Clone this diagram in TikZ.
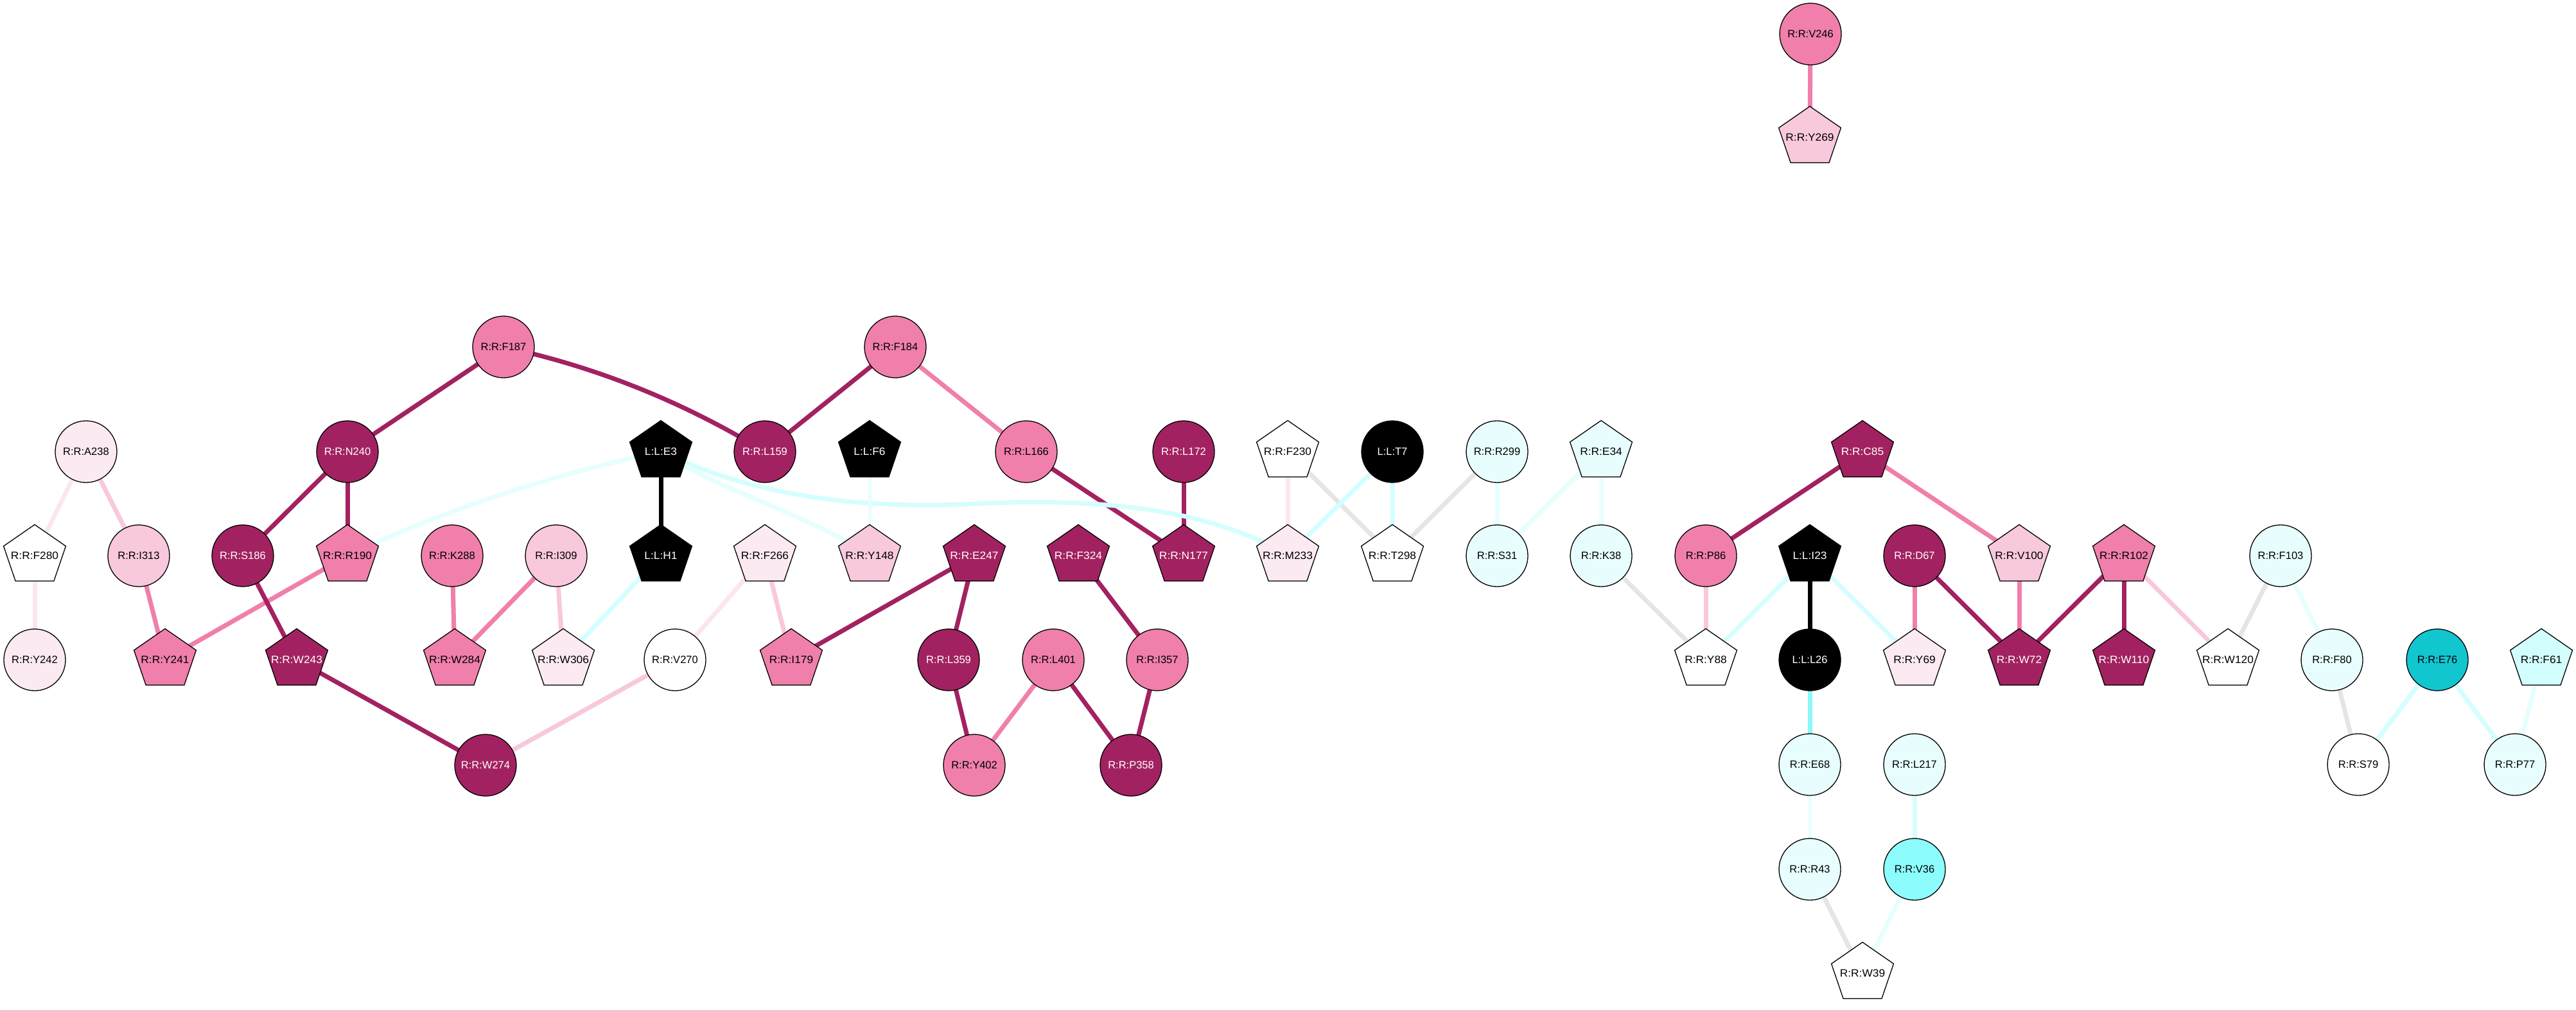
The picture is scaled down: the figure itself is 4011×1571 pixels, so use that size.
\documentclass[tikz,border=0pt]{standalone}
\usepackage{fontspec}
\setmainfont{Liberation Sans}
\usetikzlibrary{shapes.geometric,backgrounds}

\definecolor{cdark}{HTML}{A22261}
\definecolor{cmed}{HTML}{F07FAB}
\definecolor{clight}{HTML}{F8C8DD}
\definecolor{cvlight}{HTML}{FBEAF2}
\definecolor{ccyl}{HTML}{E8FEFE}
\definecolor{ccyan}{HTML}{D3FEFE}
\definecolor{ccyanm}{HTML}{8CFCFC}
\definecolor{cteal}{HTML}{12C6D0}
\definecolor{egrayc}{HTML}{E5E5E5}
\definecolor{evlc}{HTML}{FBE6EF}
\definecolor{ecyc}{HTML}{D5FEFE}
\definecolor{ecylc}{HTML}{E6FEFE}
\definecolor{ecymc}{HTML}{8CF8F8}

\newcommand{\zw}[1]{\makebox[0pt]{#1}}

\tikzset{
  nd/.style={draw=black, line width=1.3pt, inner sep=0pt, text=black,
             font=\fontsize{16.5}{18}\selectfont},
  circ/.style={nd, circle, minimum size=96pt},
  pent/.style={nd, regular polygon, regular polygon sides=5, minimum size=97pt, xscale=1.05},
  fdark/.style={fill=cdark, text=white},
  fblack/.style={fill=black, text=white},
  fmed/.style={fill=cmed},
  flight/.style={fill=clight},
  fvlight/.style={fill=cvlight},
  fwhite/.style={fill=white},
  fcyl/.style={fill=ccyl},
  fcyan/.style={fill=ccyan},
  fcyanm/.style={fill=ccyanm},
  fteal/.style={fill=cteal},
  ed/.style={line width=7pt},
  edark/.style={ed, draw=cdark},
  emed/.style={ed, draw=cmed},
  elight/.style={ed, draw=clight},
  evl/.style={ed, draw=evlc},
  egray/.style={ed, draw=egrayc},
  ecy/.style={ed, draw=ecyc},
  ecyl/.style={ed, draw=ecylc},
  ecythin/.style={line width=5pt, draw=ecylc},
  ecym/.style={ed, draw=ecymc},
  eblack/.style={ed, draw=black},
}

\begin{document}
\begin{tikzpicture}[x=1pt,y=-1pt]
\useasboundingbox (0,0) rectangle (4011,1571);

% ---- top pair
\node[circ,fmed]   (V246) at (2819,53)  {R:R:V246};
\node[pent,flight] (Y269) at (2818,214) {\zw{R:R:Y269}};

% ---- row 540
\node[circ,fmed] (F187) at (784,540)  {R:R:F187};
\node[circ,fmed] (F184) at (1394,540) {R:R:F184};

% ---- row 703
\node[circ,fvlight] (A238) at (134,703)  {R:R:A238};
\node[circ,fdark]   (N240) at (541,703)  {R:R:N240};
\node[pent,fblack]  (E3)   at (1029,703) {\zw{L:L:E3}};
\node[circ,fdark]   (L159) at (1191,703) {R:R:L159};
\node[pent,fblack]  (F6)   at (1354,703) {\zw{L:L:F6}};
\node[circ,fmed]    (L166) at (1598,703) {R:R:L166};
\node[circ,fdark]   (L172) at (1843,703) {R:R:L172};
\node[pent,fwhite]  (F230) at (2005,703) {\zw{R:R:F230}};
\node[circ,fblack]  (T7)   at (2168,703) {L:L:T7};
\node[circ,fcyl]    (R299) at (2331,703) {R:R:R299};
\node[pent,fcyl]    (E34)  at (2493,703) {\zw{R:R:E34}};
\node[pent,fdark]   (C85)  at (2900,703) {\zw{R:R:C85}};

% ---- row 865
\node[pent,fwhite]  (F280) at (54,865)   {\zw{R:R:F280}};
\node[circ,flight]  (I313) at (216,865)  {R:R:I313};
\node[circ,fdark]   (S186) at (378,865)  {R:R:S186};
\node[pent,fmed]    (R190) at (541,865)  {\zw{R:R:R190}};
\node[circ,fmed]    (K288) at (704,865)  {R:R:K288};
\node[circ,flight]  (I309) at (866,865)  {R:R:I309};
\node[pent,fblack]  (H1)   at (1029,865) {\zw{L:L:H1}};
\node[pent,fvlight] (F266) at (1191,865) {\zw{R:R:F266}};
\node[pent,flight]  (Y148) at (1354,865) {\zw{R:R:Y148}};
\node[pent,fdark]   (E247) at (1517,865) {\zw{R:R:E247}};
\node[pent,fdark]   (F324) at (1679,865) {\zw{R:R:F324}};
\node[pent,fdark]   (N177) at (1843,865) {\zw{R:R:N177}};
\node[pent,fvlight] (M233) at (2005,865) {\zw{R:R:M233}};
\node[pent,fwhite]  (T298) at (2168,865) {\zw{R:R:T298}};
\node[circ,fcyl]    (S31)  at (2331,865) {R:R:S31};
\node[circ,fcyl]    (K38)  at (2493,865) {R:R:K38};
\node[circ,fmed]    (P86)  at (2656,865) {R:R:P86};
\node[pent,fblack]  (I23)  at (2818,865) {\zw{L:L:I23}};
\node[circ,fdark]   (D67)  at (2981,865) {R:R:D67};
\node[pent,flight]  (V100) at (3144,865) {\zw{R:R:V100}};
\node[pent,fmed]    (R102) at (3307,865) {\zw{R:R:R102}};
\node[circ,fcyl]    (F103) at (3551,865) {R:R:F103};

% ---- row 1027
\node[circ,fvlight] (Y242) at (54,1027)   {R:R:Y242};
\node[pent,fmed]    (Y241) at (257,1027)  {\zw{R:R:Y241}};
\node[pent,fdark]   (W243) at (462,1027)  {\zw{R:R:W243}};
\node[pent,fmed]    (W284) at (708,1027)  {\zw{R:R:W284}};
\node[pent,fvlight] (W306) at (877,1027)  {\zw{R:R:W306}};
\node[circ,fwhite]  (V270) at (1051,1027) {R:R:V270};
\node[pent,fmed]    (I179) at (1232,1027) {\zw{R:R:I179}};
\node[circ,fdark]   (L359) at (1477,1027) {R:R:L359};
\node[circ,fmed]    (L401) at (1640,1027) {R:R:L401};
\node[circ,fmed]    (I357) at (1802,1027) {R:R:I357};
\node[pent,fwhite]  (Y88)  at (2656,1027) {\zw{R:R:Y88}};
\node[circ,fblack]  (L26)  at (2818,1027) {L:L:L26};
\node[pent,fvlight] (Y69)  at (2981,1027) {\zw{R:R:Y69}};
\node[pent,fdark]   (W72)  at (3144,1027) {\zw{R:R:W72}};
\node[pent,fdark]   (W110) at (3307,1027) {\zw{R:R:W110}};
\node[pent,fwhite]  (W120) at (3469,1027) {\zw{R:R:W120}};
\node[circ,fcyl]    (F80)  at (3631,1027) {R:R:F80};
\node[circ,fteal]   (E76)  at (3795,1027) {R:R:E76};
\node[pent,fcyan]   (F61)  at (3957,1027) {\zw{R:R:F61}};

% ---- row 1190
\node[circ,fdark]  (W274) at (756,1191)  {R:R:W274};
\node[circ,fmed]   (Y402) at (1517,1191) {R:R:Y402};
\node[circ,fdark]  (P358) at (1761,1191) {R:R:P358};
\node[circ,fcyl]   (E68)  at (2818,1190) {R:R:E68};
\node[circ,fcyl]   (L217) at (2981,1190) {R:R:L217};
\node[circ,fwhite] (S79)  at (3672,1190) {R:R:S79};
\node[circ,fcyl]   (P77)  at (3916,1190) {R:R:P77};

% ---- rows 1353 / 1515
\node[circ,fcyl]   (R43) at (2818,1353) {R:R:R43};
\node[circ,fcyanm] (V36) at (2981,1353) {R:R:V36};
\node[pent,fwhite] (W39) at (2900,1515) {\zw{R:R:W39}};

\coordinate (wEM) at (1520,784);

\begin{scope}[on background layer]
  % pink / magenta edges
  \draw[emed]   (V246.center) -- (Y269.center);
  \draw[evl]    (A238.center) -- (F280.center);
  \draw[elight] (A238.center) -- (I313.center);
  \draw[evl]    (F280.center) -- (Y242.center);
  \draw[emed]   (I313.center) -- (Y241.center);
  \draw[edark]  (F187.center) -- (N240.center);
  \draw[edark]  (F187.center) .. controls (929,571) and (1065,626) .. (L159.center);
  \draw[edark]  (N240.center) -- (S186.center);
  \draw[edark]  (N240.center) -- (R190.center);
  \draw[emed]   (R190.center) -- (Y241.center);
  \draw[edark]  (S186.center) -- (W243.center);
  \draw[edark]  (W243.center) -- (W274.center);
  \draw[emed]   (K288.center) -- (W284.center);
  \draw[emed]   (I309.center) -- (W284.center);
  \draw[elight] (I309.center) -- (W306.center);
  \draw[elight] (W274.center) -- (V270.center);
  \draw[evl]    (V270.center) -- (F266.center);
  \draw[elight] (F266.center) -- (I179.center);
  \draw[edark]  (E247.center) -- (I179.center);
  \draw[edark]  (E247.center) -- (L359.center);
  \draw[edark]  (L359.center) -- (Y402.center);
  \draw[emed]   (L401.center) -- (Y402.center);
  \draw[edark]  (L401.center) -- (P358.center);
  \draw[edark]  (F324.center) -- (I357.center);
  \draw[edark]  (I357.center) -- (P358.center);
  \draw[edark]  (F184.center) -- (L159.center);
  \draw[emed]   (F184.center) -- (L166.center);
  \draw[edark]  (L166.center) -- (N177.center);
  \draw[edark]  (L172.center) -- (N177.center);
  \draw[evl]    (F230.center) -- (M233.center);
  \draw[edark]  (C85.center) -- (P86.center);
  \draw[emed]   (C85.center) -- (V100.center);
  \draw[elight] (P86.center) -- (Y88.center);
  \draw[emed]   (D67.center) -- (Y69.center);
  \draw[edark]  (D67.center) -- (W72.center);
  \draw[emed]   (V100.center) -- (W72.center);
  \draw[edark]  (R102.center) -- (W72.center);
  \draw[edark]  (R102.center) -- (W110.center);
  \draw[elight] (R102.center) -- (W120.center);
  % gray edges
  \draw[egray] (F230.center) -- (T298.center);
  \draw[egray] (R299.center) -- (T298.center);
  \draw[egray] (K38.center) -- (Y88.center);
  \draw[egray] (F103.center) -- (W120.center);
  \draw[egray] (F80.center) -- (S79.center);
  \draw[egray] (R43.center) -- (W39.center);
  % black edges
  \draw[eblack] (E3.center) -- (H1.center);
  \draw[eblack] (I23.center) -- (L26.center);
  % cyan edges
  \draw[ecyl]    (E3.center) .. controls (866,737) and (697,791) .. (R190.center);
  \draw[ecy]     (E3.center) .. controls (1150,760) and (1300,795) .. (wEM)
                 .. controls (1740,773) and (1900,800) .. (M233.center);
  \draw[ecyl]    (E3.center) .. controls (1110,760) and (1260,800) .. (Y148.center);
  \draw[ecythin] (F6.center) -- (Y148.center);
  \draw[ecy]     (W306.center) -- (H1.center);
  \draw[ecy]     (T7.center) -- (M233.center);
  \draw[ecy]     (T7.center) -- (T298.center);
  \draw[ecyl]    (R299.center) -- (S31.center);
  \draw[ecyl]    (E34.center) -- (S31.center);
  \draw[ecyl]    (E34.center) -- (K38.center);
  \draw[ecy]     (I23.center) -- (Y88.center);
  \draw[ecy]     (I23.center) -- (Y69.center);
  \draw[ecym]    (L26.center) -- (E68.center);
  \draw[ecythin] (E68.center) -- (R43.center);
  \draw[ecy]     (L217.center) -- (V36.center);
  \draw[ecyl]    (V36.center) -- (W39.center);
  \draw[ecyl]    (F103.center) -- (F80.center);
  \draw[ecy]     (E76.center) -- (S79.center);
  \draw[ecy]     (E76.center) -- (P77.center);
  \draw[ecyl]    (F61.center) -- (P77.center);
\end{scope}
\end{tikzpicture}
\end{document}
